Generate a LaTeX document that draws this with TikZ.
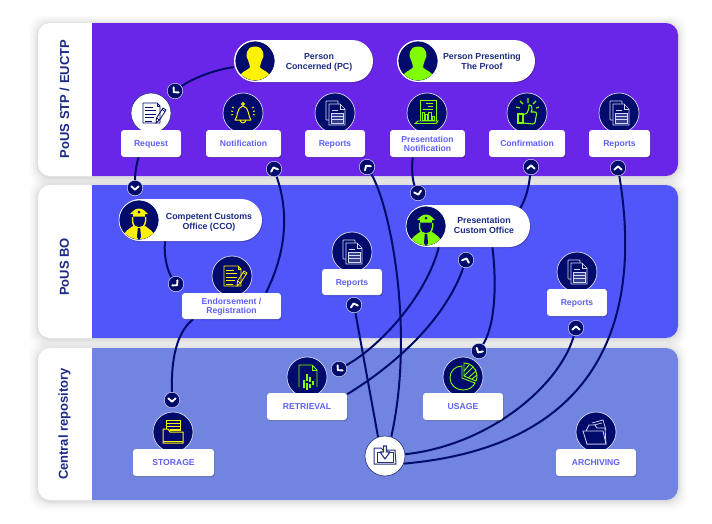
\documentclass[tikz,border=0pt]{standalone}
\usepackage{fontspec}
\setmainfont{Liberation Sans}
\usetikzlibrary{shadows}
\definecolor{navy}{HTML}{000B6B}
\definecolor{txtnavy}{HTML}{1B2A85}
\definecolor{lbl}{HTML}{5F60F6}
\definecolor{rowA}{HTML}{6A26E8}
\definecolor{rowB}{HTML}{5056F8}
\definecolor{rowC}{HTML}{7184E0}
\definecolor{yel}{HTML}{FFF200}
\definecolor{grn}{HTML}{7FFF00}
\definecolor{pale}{HTML}{D5D8F2}
\pgfdeclarelayer{bg}\pgfdeclarelayer{conn}
\pgfsetlayers{bg,conn,main}
\newcommand\tx[1]{\raisebox{-3.6pt}[0pt][0pt]{\begin{tabular}{@{}c@{}}#1\end{tabular}}}
\tikzset{
  boxsh/.style={drop shadow={shadow xshift=0.8pt,shadow yshift=-1pt,opacity=.22,fill=black}},
  labelbox/.style={draw=none,fill=white,rounded corners=3pt,boxsh,inner sep=0pt,text=lbl,font=\fontsize{8.6}{9}\selectfont\bfseries},
  pill/.style={draw=none,fill=white,rounded corners=21pt,boxsh,inner sep=0pt},
  pilltext/.style={text=txtnavy,inner sep=0pt,font=\fontsize{8.8}{10}\selectfont\bfseries},
  iconc/.style={circle,fill=navy,draw=pale,line width=.7pt,minimum size=40pt,inner sep=0pt},
  iconw/.style={circle,fill=white,draw=navy!80,line width=.7pt,minimum size=40pt,inner sep=0pt},
  badge/.style={circle,fill=navy,draw=pale,line width=.5pt,minimum size=15.5pt,inner sep=0pt},
  side/.style={rotate=90,text=txtnavy,inner sep=0pt,font=\fontsize{13}{15}\selectfont\bfseries},
  link/.style={draw=navy,line width=2pt},
  pics/chev/.style={code={\draw[white,line width=1.9pt,line cap=round,line join=round,rotate=#1] (-3.6,1.6)--(0,-1.6)--(3.6,1.6);}},
  pics/docs/.style={code={
    \draw[pale,line width=.7pt,fill=navy,rounded corners=.6pt] (-9,-12)--(3,-12)--(3,7)--(-9,7)--cycle;
    \draw[pale,line width=.7pt,fill=navy] (-6,-9)--(5,-9)--(10,-4)--(10,12)--(-6,12)--cycle;
    \draw[pale,line width=.7pt] (5,-9)--(5,-4)--(10,-4);
    \draw[pale,line width=.7pt,fill=pale!25!navy] (-4,0) rectangle (8,10);
    \draw[pale,line width=.8pt] (-4,3.3)--(8,3.3) (-4,6.6)--(8,6.6) (-3,-3)--(3,-3);
  }},
  pics/pendoc/.style={code={
    \draw[#1,line width=.8pt] (-8,-10)--(6,-10)--(9,-7)--(9,10)--(-8,10)--cycle;
    \draw[#1,line width=.8pt] (6,-10)--(6,-7)--(9,-7);
    \draw[#1,line width=1pt] (-6,-6)--(2,-6) (-6,-2.5)--(5,-2.5) (-6,1)--(5,1) (-6,4.5)--(3,4.5) (-6,8)--(1,8);
    \draw[#1,line width=.8pt] (5,10)--(5.5,5)--(12,-5)--(15,-3)--(8.5,7)--cycle;
    \draw[#1,line width=.8pt] (5.5,5)--(8.5,7) (11,-3.5)--(14,-1.5);
  }},
  pics/bell/.style={code={
    \draw[yel,line width=1pt,line join=round] (-8,7)..controls(-5,4)and(-6.5,-6)..(0,-7)..controls(6.5,-6)and(5,4)..(8,7)--cycle;
    \draw[yel,line width=1pt] (-3,7)..controls(-2,11)and(2,11)..(3,7);
    \draw[yel,line width=1pt] (0,-9) circle (1.4);
    \draw[yel,line width=.9pt] (-12,-2)--(-10,-1.5) (-12,2)--(-10,1.6) (-11,-6)--(-9,-5) (12,-2)--(10,-1.5) (12,2)--(10,1.6) (11,-6)--(9,-5);
  }},
  pics/chart/.style={code={
    \draw[grn,line width=.9pt] (-7,8)--(-7,-13)--(9,-13)--(9,8);
    \draw[grn,line width=.9pt] (-12,10.5)--(9,10.5)--(11,8)--(-9,8)--cycle;
    \draw[grn,line width=.9pt] (-1,-10)--(6,-10) (1,-7)--(6,-7) (-4,-4)--(6,-4);
    \draw[grn,line width=.8pt] (-5,7) rectangle (-3,-1) (-2,7) rectangle (0,1) (1,7) rectangle (4,-1) (5,7) rectangle (7,3);
  }},
  pics/thumb/.style={code={
    \draw[grn,line width=1.1pt] (-9,1) rectangle (-4,10);
    \draw[grn,line width=1.1pt,line join=round] (-4,2)--(0,0)..controls(1,-2)and(2,-4)..(2,-8)..controls(5,-9)and(6,-3)..(4,-1)--(8,-1)..controls(10,-1)and(10,3)..(9,4)..controls(9,7)and(8,11)..(6,11)--(-4,10);
    \draw[grn,line width=1.1pt] (1,-10)--(1,-15) (-4,-9)--(-7,-12) (6,-9)--(9,-12) (-7,-5)--(-11,-6) (9,-5)--(12,-6);
  }},
  pics/person/.style={code={
    \begin{scope}
    \clip (0,0) circle (19.3);
    \fill[#1] (0,-14.5)..controls(10,-14.5)and(9.5,-4)..(7,-1)..controls(6,2)and(5,4)..(5,6.5)..controls(8,10)and(15,10)..(17,19)--(-17,19)..controls(-15,10)and(-8,10)..(-5,6.5)..controls(-5,4)and(-6,2)..(-7,-1)..controls(-9.5,-4)and(-10,-14.5)..(0,-14.5)--cycle;
    \end{scope}
  }},
  pics/officer/.style={code={
    \begin{scope}
    \clip (0,0) circle (19.3);
    \fill[#1] (-17,19)..controls(-15,11)and(-10,9)..(-6,6)--(6,6)..controls(10,9)and(15,11)..(17,19)--cycle;
    \fill[#1] (-9,-6)..controls(-6,-8)and(-5,-11.5)..(0,-11.5)..controls(5,-11.5)and(6,-8)..(9,-6)--(6,-6)--(6,-3.5)--(-6,-3.5)--(-6,-6)--cycle;
    \draw[#1,line width=1.5pt] (-6.5,-3)--(-6.5,1)..controls(-6,6)and(-3,8)..(0,8)..controls(3,8)and(6,6)..(6.5,1)--(6.5,-3);
    \fill[navy] (-5.5,-2.5)--(5.5,-2.5)--(5.5,1)..controls(5,5)and(3,7.2)..(0,7.2)..controls(-3,7.2)and(-5,5)..(-5.5,1)--cycle;
    \fill[navy] (0,-8) circle (1.5);
    \fill[navy] (-1.2,8)--(1.2,8)--(2,17)--(0,20)--(-2,17)--cycle;
    \end{scope}
  }},
  pics/retr/.style={code={
    \draw[grn,line width=.8pt] (-8,10)--(-8,-12)--(5,-12)--(10,-7)--(10,10);
    \draw[grn,line width=.8pt] (5,-12)--(5,-7)--(10,-7);
    \draw[grn,line width=1.3pt] (-3,3)--(-3,11) (0,-3)--(0,4) (0,6)--(0,13) (3,0)--(3,5) (3,7)--(3,11) (6,4)--(6,8);
  }},
  pics/piei/.style={code={
    \draw[grn,line width=.9pt] (-1,-11)..controls(-8,-11)and(-13,-6)..(-13,1)..controls(-13,8)and(-7,13)..(0,13)..controls(6,13)and(10,10)..(12,6)--(-1,1)--cycle;
    \draw[grn,line width=.9pt] (1,-14)..controls(8,-14)and(13,-9)..(14,-2)..controls(14,0)and(14,2)..(13,4)--(1,-1)--cycle;
    \draw[grn,line width=.9pt] (1,-6)--(6,-12) (1,-1)--(10,-10) (5,1)--(13,-6) (9,2)--(14,-2);
  }},
  pics/stor/.style={code={
    \draw[yel,line width=.9pt] (-7,-12) rectangle (7,-2);
    \draw[yel,line width=.8pt] (-7,-9)--(7,-9) (-7,-6)--(7,-6) (-3,-3)--(7,-3);
    \draw[yel,line width=1pt,fill=navy] (-10,-3)--(-5,-3)--(-3,0)--(10,0)--(10,11)--(-10,11)--cycle;
    \draw[yel,line width=.8pt] (-10,9)--(10,9);
  }},
  pics/arch/.style={code={
    \draw[pale,line width=.7pt] (-4,-9)--(7,-12)--(10,-2) (-6,-6)--(6,-9);
    \draw[pale,line width=.8pt,fill=navy] (-10,-1)--(-7,-7)--(-1,-7)--(1,-4)--(9,-4)--(10,12)--(-9,12)--cycle;
    \draw[pale,line width=.8pt,fill=navy] (-13,-1)--(7,-1)--(10,12)--(-9,12)--cycle;
  }},
  pics/dload/.style={code={
    \draw[navy!85!white,line width=1pt] (-11,-8)--(-4,-8)--(-2,-6)--(10,-6)--(11,8)--(-11,8)--cycle;
    \draw[navy!85!white,line width=1pt] (-3,-4)--(-8,-4)--(-8,6)--(8,6)--(8,-4)--(3,-4);
    \draw[navy!85!white,line width=1.1pt,line join=round,fill=white] (-1.5,-10)--(1.5,-10)--(1.5,-4)--(5,-4)--(0,3)--(-5,-4)--(-1.5,-4)--cycle;
  }},
}
\newcommand\lbox[6]{\node[labelbox,minimum width={(#4-#2)*1pt},minimum height={(#5-#3)*1pt}] (#1) at ({(#2+#4)/2},{(#3+#5)/2}) {\tx{#6}};}
\newcommand\pillnode[5]{\node[pill,minimum width={(#4-#2)*1pt},minimum height={(#5-#3)*1pt}] (#1) at ({(#2+#4)/2},{(#3+#5)/2}) {};}
\newcommand\panelshadow[4]{\foreach \e/\o in {9/.012,7/.018,5/.022,3/.03,1.5/.04}{\fill[black,opacity=\o,rounded corners=14pt] ({#1-\e},{#2-\e+1}) rectangle ({#3+\e},{#4+\e+1});}}
\begin{document}
\begin{tikzpicture}[x=1pt,y=-1pt]
\useasboundingbox (0,0) rectangle (712,523);
\begin{pgfonlayer}{bg}
\fill[white] (0,0) rectangle (712,523);
\panelshadow{38}{23}{678}{176}
\panelshadow{38}{185}{678}{338}
\panelshadow{38}{348}{678}{500}
\fill[white,rounded corners=12pt] (38,23) rectangle (678,176);
\fill[white,rounded corners=12pt] (38,185) rectangle (678,338);
\fill[white,rounded corners=12pt] (38,348) rectangle (678,500);
\fill[rowA] (92,23) [rounded corners=12pt] -- (678,23) -- (678,176) [sharp corners] -- (92,176) -- cycle;
\fill[rowB] (92,185) [rounded corners=12pt] -- (678,185) -- (678,338) [sharp corners] -- (92,338) -- cycle;
\fill[rowC] (92,348) [rounded corners=12pt] -- (678,348) -- (678,500) [sharp corners] -- (92,500) -- cycle;
\end{pgfonlayer}
\node[side] (sA) at (64.5,99) {PoUS STP / EUCTP};
\node[side] (sB) at (64.5,267) {PoUS BO};
\node[side] (sC) at (64.5,424) {Central repository};
% pills
\pillnode{pc}{234}{40}{373}{82}
\node[iconc,draw=white] (pcI) at (255,61) {}; \pic at (pcI) {person=yel};
\node[pilltext] (pcT) at (319,61) {\tx{Person\\Concerned (PC)}};
\pillnode{pp}{397}{40}{535}{82}
\node[iconc,draw=white] (ppI) at (418,61) {}; \pic at (ppI) {person=grn};
\node[pilltext] (ppT) at (482,61) {\tx{Person Presenting\\The Proof}};
\pillnode{cco}{119}{199}{262}{241}
\node[iconc,draw=white] (ccoI) at (139,220) {}; \pic at (ccoI) {officer=yel};
\node[pilltext] (ccoT) at (209,220.7) {\tx{Competent Customs\\Office (CCO)}};
\pillnode{pco}{406}{205}{530}{247}
\node[iconc,draw=white] (pcoI) at (426,226) {}; \pic at (pcoI) {officer=grn};
\node[pilltext] (pcoT) at (484,225) {\tx{Presentation\\Custom Office}};
% top row
\node[iconw] (reqI) at (151,113) {}; \pic at (reqI) {pendoc=navy};
\lbox{req}{121}{130}{181}{157}{Request}
\node[iconc] (notI) at (243,113) {}; \pic at (notI) {bell};
\lbox{not}{206}{130}{281}{157}{Notification}
\node[iconc] (repAI) at (335,113) {}; \pic at (repAI) {docs};
\lbox{repA}{305}{130}{365}{157}{Reports}
\node[iconc] (pnI) at (427,113) {}; \pic at (pnI) {chart};
\lbox{pn}{390}{130}{465}{157}{Presentation\\Notification}
\node[iconc] (cfI) at (527,113) {}; \pic at (cfI) {thumb};
\lbox{cf}{489}{130}{565}{157}{Confirmation}
\node[iconc] (repBI) at (619,113) {}; \pic at (repBI) {docs};
\lbox{repB}{589}{130}{650}{157}{Reports}
% middle row
\node[iconc] (endI) at (232,276) {}; \pic at (endI) {pendoc=yel};
\lbox{end}{182}{293}{281}{319}{Endorsement /\\Registration}
\node[iconc] (repCI) at (352,252) {}; \pic at (repCI) {docs};
\lbox{repC}{322}{269}{382}{295}{Reports}
\node[iconc] (repDI) at (577,272) {}; \pic at (repDI) {docs};
\lbox{repD}{547}{289}{607}{316}{Reports}
% bottom row
\node[iconc] (stoI) at (173,432) {}; \pic at (stoI) {stor};
\lbox{sto}{133}{449}{214}{476}{STORAGE}
\node[iconc] (retI) at (307,377) {}; \pic at (retI) {retr};
\lbox{ret}{267}{393}{347}{420}{RETRIEVAL}
\node[iconc] (useI) at (463,377) {}; \pic at (useI) {piei};
\lbox{use}{423}{393}{503}{420}{USAGE}
\node[iconc] (arcI) at (596,432) {}; \pic at (arcI) {arch};
\lbox{arc}{556}{449}{636}{476}{ARCHIVING}
\node[iconw] (dl) at (385,456) {}; \pic at (dl) {dload};
% badges
\node[badge] (b1) at (175,91) {}; \pic at (b1) {chev=135};
\node[badge] (b2) at (135,188) {}; \pic at (b2) {chev=180};
\node[badge] (b3) at (274,169) {}; \pic at (b3) {chev=20};
\node[badge] (b4) at (367,167) {}; \pic at (b4) {chev=35};
\node[badge] (b5) at (531,167) {}; \pic at (b5) {chev=0};
\node[badge] (b6) at (618,168) {}; \pic at (b6) {chev=0};
\node[badge] (b7) at (418,193) {}; \pic at (b7) {chev=195};
\node[badge] (b8) at (176,284) {}; \pic at (b8) {chev=225};
\node[badge] (b9) at (354,305) {}; \pic at (b9) {chev=15};
\node[badge] (b10) at (466,260) {}; \pic at (b10) {chev=-20};
\node[badge] (b11) at (479,351) {}; \pic at (b11) {chev=150};
\node[badge] (b12) at (576,328) {}; \pic at (b12) {chev=0};
\node[badge] (b13) at (172,400) {}; \pic at (b13) {chev=180};
\node[badge] (b14) at (339,369) {}; \pic at (b14) {chev=135};
\coordinate (pcoTop) at (518,212);
% connectors
\begin{pgfonlayer}{conn}
\draw[link] (pc.185.75) .. controls (212,70) and (190,80) .. (b1);
\draw[link] (req.-132) .. controls (136,165) and (135,175) .. (b2);
\draw[link] (b3) .. controls (290,215) and (285,255) .. (end.21.8);
\draw[link] (b4) .. controls (390,205) and (415,330) .. (dl.72);
\draw[link] (b9) -- (dl.110);
\draw[link] (pn.223) .. controls (411,170) and (413,182) .. (b7);
\draw[link] (b5) .. controls (529,185) and (527,198) .. (pcoTop);
\draw[link] (b6) .. controls (640,300) and (615,445) .. (dl.-22);
\draw[link] (b12) .. controls (560,385) and (490,445) .. (dl.5);
\draw[link] (pco.216) .. controls (425,300) and (375,350) .. (b14);
\draw[link] (b10) .. controls (445,320) and (395,365) .. (ret.17.4);
\draw[link] (pco.-41) .. controls (497,285) and (495,325) .. (b11);
\draw[link] (end.199) .. controls (180,330) and (171,350) .. (b13);
\draw[link] (cco.220.6) .. controls (163,255) and (168,272) .. (b8);
\end{pgfonlayer}
\end{tikzpicture}
\end{document}
